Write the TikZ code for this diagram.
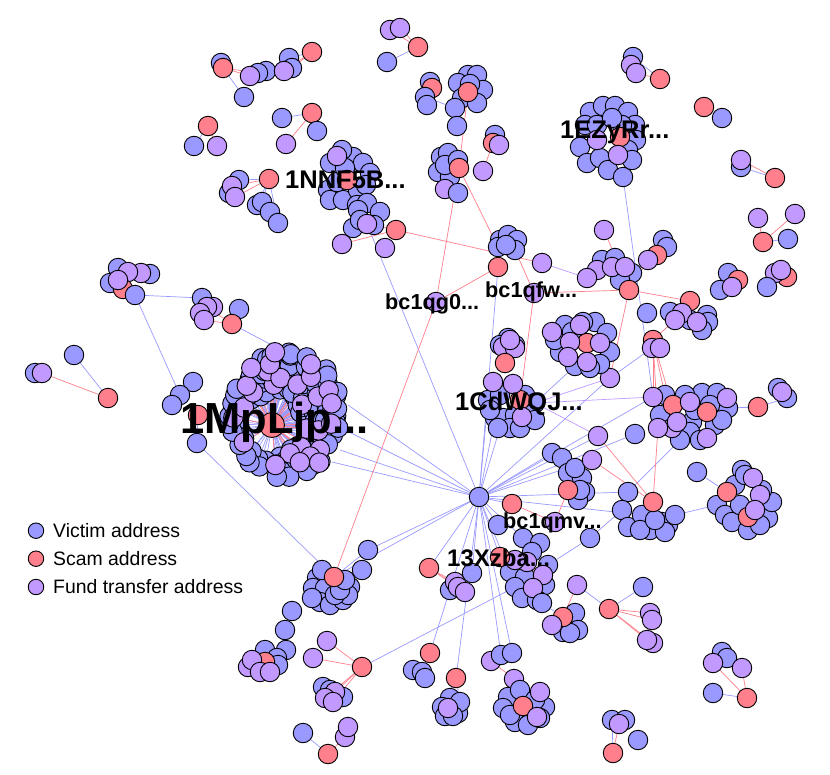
\documentclass[tikz,border=0pt]{standalone}
\usepackage{fontspec}
\setmainfont{Liberation Sans}
\definecolor{vic}{HTML}{9999FF}
\definecolor{scm}{HTML}{FF7F8C}
\definecolor{fnd}{HTML}{C299FF}
\pgfdeclarelayer{back}
\pgfdeclarelayer{bg}
\pgfsetlayers{back,bg,main}
\tikzset{
 nd/.style={circle,draw=black,line width=0.9pt,minimum size=19.5pt,inner sep=0pt},
 be/.style={draw=vic,line width=0.7pt},
 re/.style={draw=scm,line width=0.7pt},
 pe/.style={draw=fnd,line width=0.7pt},
 lab/.style={anchor=base west,inner sep=0pt},
 legc/.style={circle,draw=black,line width=0.9pt,minimum size=15.5pt,inner sep=0pt},
}
\newcommand\nodegroup[2]{\foreach \x/\y/\c [count=\i] in {#2} {\node[nd,fill=\c] (#1\i) at (\x,\y) {};}}
\newcommand\edgeset[2]{\begin{pgfonlayer}{bg}\foreach \ua/\ub in {#2} {\draw[#1] (\ua) -- (\ub);}\end{pgfonlayer}}
\begin{document}
\begin{tikzpicture}[x=1pt,y=-1pt]
\useasboundingbox (0,0) rectangle (830,774);
\begin{pgfonlayer}{back}\fill[white] (0,0) rectangle (830,774);\end{pgfonlayer}

% ---------- top-left small groups
\nodegroup{A}{221/63/vic,244/97/vic,223/68/scm,266/71/vic,258/73/vic,250/76/fnd,289/58/vic,292/68/vic,284/71/fnd,312/52/scm}
\nodegroup{B}{282/118/vic,312/113/scm,317/131/vic,286/144/fnd}
\nodegroup{C}{208/126/scm,194/146/vic,217/146/fnd}
\nodegroup{D}{239/180/vic,229/193/vic,232/186/fnd,235/197/fnd,269/179/scm,257/205/vic,262/202/vic,270/212/vic,278/223/vic}
% ---------- 1NNF5B cluster
\nodegroup{E}{330/163/vic,353/157/vic,363/163/vic,370/173/vic,328/190/vic,330/200/vic,343/200/vic,337/182/vic,358/190/vic,366/185/vic,345/168/vic,342/150/vic,357/205/vic,337/156/fnd,347/180/scm,367/203/vic,380/212/vic,358/210/vic,353/228/vic,360/220/vic,374/225/vic,367/224/fnd,396/230/scm,342/244/fnd,385/248/fnd}
% ---------- top middle
\nodegroup{TM}{390/30/fnd,400/28/fnd,387/62/vic,418/47/scm}
\nodegroup{H}{430/82/vic,432/88/scm,425/97/vic,427/105/vic,468/75/vic,477/75/vic,458/83/vic,483/90/vic,462/98/vic,477/103/vic,470/84/vic,455/108/vic,457/126/vic,468/92/scm}
\nodegroup{I}{495/135/vic,493/143/scm,499/145/fnd,483/171/fnd}
\nodegroup{G}{441/157/vic,448/153/vic,438/172/vic,450/177/vic,445/165/vic,458/160/vic,459/168/scm,445/189/fnd,458/193/vic}
\nodegroup{F}{500/240/vic,508/235/vic,517/240/vic,498/247/vic,515/250/vic,506/245/vic,498/267/scm,542/263/fnd,534/293/fnd}
\node[nd,fill=fnd] (QG) at (436,302) {};
% ---------- 1EZyRr cluster
\nodegroup{J}{590/112/vic,603/106/vic,615/106/vic,628/112/vic,635/125/vic,585/125/vic,636/140/vic,580/147/vic,628/150/vic,587/163/vic,600/158/vic,608/170/vic,623/177/vic,632/160/vic,597/125/vic,622/125/vic,612/118/vic,620/137/scm,597/140/fnd,618/155/fnd}
% ---------- top right
\nodegroup{TR}{633/57/vic,631/65/fnd,636/73/fnd,660/79/scm,704/107/scm,722/118/vic,741/167/vic,741/160/fnd,775/178/scm,758/218/fnd,795/214/fnd,763/242/scm,788/239/vic,728/273/vic,738/280/scm,720/290/vic,732/287/fnd,787/277/scm,775/273/fnd,781/270/fnd,767/287/vic}
\nodegroup{L}{602/260/vic,615/258/vic,632/273/vic,620/280/vic,597/270/fnd,587/278/fnd,612/267/fnd,625/267/fnd,629/290/scm,604/230/fnd,663/240/vic,667/247/vic,657/255/scm,648/260/fnd}
\nodegroup{M}{670/312/vic,707/315/vic,708/322/vic,702/330/vic,690/320/vic,690/301/scm,682/313/fnd,675/320/fnd,697/322/fnd}
\node[nd,fill=vic] (BL1) at (647,313) {};
\nodegroup{N}{653/340/scm,652/348/fnd,660/348/fnd}
\node[nd,fill=fnd] (PX) at (610,378) {};
\nodegroup{P}{565/325/vic,595/322/vic,607/333/vic,610/352/vic,600/364/vic,575/366/vic,560/352/vic,583/322/vic,590/368/vic,555/340/vic,572/332/vic,587/343/scm,552/332/fnd,580/325/fnd,570/342/fnd,600/343/fnd,587/362/fnd,568/357/fnd}
\nodegroup{Q}{508/338/vic,500/345/vic,515/345/vic,503/347/fnd,515/348/fnd,510/340/fnd,505/363/scm}
% ---------- 1CdWQJ cluster
\nodegroup{R}{488/400/vic,500/395/vic,525/395/vic,535/403/vic,530/415/vic,495/418/vic,503/418/vic,515/415/vic,510/428/vic,498/428/vic,520/428/vic,490/410/vic,535/420/vic,520/400/scm,493/382/fnd,513/384/fnd,522/417/fnd}
% ---------- right middle
\nodegroup{K}{702/393/vic,717/393/vic,692/422/vic,728/408/vic,665/395/vic,685/395/vic,695/410/vic,690/432/vic,715/425/vic,660/415/vic,700/440/vic,680/440/vic,722/420/vic,710/405/vic,673/405/scm,707/412/scm,653/397/fnd,672/428/fnd,677/422/fnd,658/428/fnd,727/398/fnd,707/438/fnd,690/402/fnd}
\nodegroup{KR}{758/407/scm,787/398/vic,778/388/vic,782/392/fnd}
\node[nd,fill=fnd] (PA) at (598,436) {};
\node[nd,fill=vic] (PB) at (635,434) {};
\nodegroup{S}{552/453/vic,562/458/vic,568/473/vic,582/478/vic,585/492/vic,578/500/vic,575/468/vic,580/490/vic,568/490/scm,592/460/fnd}
\nodegroup{T}{628/492/vic,622/510/vic,628/527/vic,642/515/vic,650/530/vic,662/522/vic,668/525/vic,665/532/vic,640/530/vic,675/515/vic,655/520/vic,653/502/scm}
\node[nd,fill=vic] (TB) at (697,472) {};
\nodegroup{U}{742/470/vic,735/485/vic,717/505/vic,725/515/vic,732/522/vic,748/530/vic,768/518/vic,772/502/vic,760/525/vic,745/475/vic,762/490/vic,740/505/vic,727/492/scm,748/517/scm,753/478/fnd,760/495/fnd,755/510/fnd}
\node[nd,fill=vic] (SB) at (590,538) {};
\node[nd,fill=vic] (HB) at (498,525) {};
\node[nd,fill=scm] (HR) at (512,504) {};
\node[nd,fill=fnd] (QM) at (555,522) {};
\node[nd,fill=vic] (hub) at (479,497) {};
% ---------- 13Xzba area
\nodegroup{V}{523/538/vic,540/543/vic,548/565/vic,510/572/vic,525/577/vic,545/585/vic,515/587/vic,522/598/vic,537/600/vic,532/552/vic,527/562/fnd,543/575/fnd,533/588/fnd,515/560/fnd}
\node[nd,fill=scm] (XR) at (500,557) {};
\node[nd,fill=vic] (VB) at (542,603) {};
\node[nd,fill=fnd] (WP) at (577,585) {};
\nodegroup{W}{575/613/vic,578/630/vic,563/632/vic,570/633/vic,563/617/scm,552/625/fnd}
\nodegroup{Y}{429/568/scm,472/573/vic,450/590/vic,455/582/fnd,458/587/fnd,465/592/fnd}
\nodegroup{Z}{609/609/scm,643/587/vic,653/643/fnd,650/613/fnd,652/620/fnd,647/640/fnd}
\nodegroup{ZB}{413/670/vic,422/672/vic,425/678/vic,430/653/scm}
\nodegroup{AB}{456/678/scm,450/698/vic,442/707/vic,458/713/vic,460/702/vic,445/716/vic,453/716/vic,448/708/fnd}
\nodegroup{AA}{491/661/fnd,501/655/vic,512/653/vic,514/679/fnd,508/697/vic,503/708/vic,515/722/vic,545/707/vic,528/725/vic,520/690/vic,535/700/vic,510/715/vic,540/718/vic,523/706/scm,540/692/fnd,537/717/fnd}
\nodegroup{BB}{722/652/vic,727/658/vic,713/663/fnd,742/668/fnd,713/693/vic,747/698/scm}
\nodegroup{CC}{612/720/vic,625/720/vic,619/724/fnd,638/740/vic,613/753/scm}
% ---------- bottom left
\nodegroup{DD}{317/578/vic,313/588/vic,325/588/vic,350/587/vic,320/602/vic,330/605/vic,343/600/vic,348/595/vic,312/598/vic,335/595/vic,322/570/vic,340/590/vic,345/580/vic,334/577/scm}
\nodegroup{DB}{368/550/vic,362/570/vic}
\nodegroup{EE}{292/611/vic,285/630/vic,286/650/vic,265/650/vic,277/658/vic,278/665/vic,265/662/scm,248/667/fnd,252/660/fnd,260/672/fnd,270/672/fnd}
\nodegroup{FF}{327/641/fnd,313/658/fnd,362/667/scm,323/687/vic,343/697/vic,330/690/vic,335/692/fnd,325/698/fnd,333/702/fnd}
\nodegroup{HH}{303/733/vic,328/754/scm,345/737/fnd,348/727/fnd}
% ---------- left
\nodegroup{LA}{118/268/vic,110/283/vic,150/274/vic,141/273/fnd,128/272/fnd,123/289/scm,118/280/fnd,135/295/vic}
\nodegroup{LB}{202/298/vic,213/307/fnd,207/307/fnd,200/313/fnd,204/320/fnd,239/309/vic,232/324/scm}
\nodegroup{LC}{74/355/vic,35/373/vic,42/373/fnd,108/398/scm}
\nodegroup{ML}{193/382/vic,180/395/vic,172/405/vic,198/415/scm,197/443/vic}

% ---------- 1MpLjp cluster: blue layer, then purple layer on top
\node[nd,fill=scm,minimum size=25pt] (MPC) at (272,425) {};
\foreach \r/\n/\o in {34/19/0,41/23/9,48/27/4,55/31/11,62/35/2,69/39/7,76/43/5,83/47/1}{
 \foreach \k in {1,...,\n}{
  \pgfmathsetmacro\ang{360/\n*\k+\o+5*sin(\k*97+\r*31)}
  \pgfmathsetmacro\rr{\r+3*cos(\k*73+\r*41)}
  \pgfmathsetmacro\px{272+\rr*cos(\ang)}
  \pgfmathsetmacro\py{425+\rr*sin(\ang)}
  \pgfmathsetmacro\dd{veclen((\px-285)/58,(\py-414)/64)}
  \ifdim\dd pt<1pt
    \node[nd,fill=vic] (mpb-\r-\k) at (\px,\py) {};
    \begin{pgfonlayer}{bg}\draw[be] (MPC) -- (mpb-\r-\k);\end{pgfonlayer}
  \fi
 }}
\foreach \r/\n/\o in {37/14/13,50/19/3,63/24/17,76/29/8}{
 \foreach \k in {1,...,\n}{
  \pgfmathsetmacro\ang{360/\n*\k+\o+7*sin(\k*61+\r*23)}
  \pgfmathsetmacro\rr{\r+4*cos(\k*113+\r*19)}
  \pgfmathsetmacro\px{272+\rr*cos(\ang)}
  \pgfmathsetmacro\py{425+\rr*sin(\ang)}
  \pgfmathsetmacro\dd{veclen((\px-285)/57,(\py-414)/63)}
  \pgfmathtruncatemacro\cc{mod(\k*\k*3+\r*7+\k*5,7)}
  \ifdim\dd pt<1pt
   \ifnum\cc<4
    \node[nd,fill=fnd] (mpf-\r-\k) at (\px,\py) {};
    \begin{pgfonlayer}{bg}\draw[re] (MPC) -- (mpf-\r-\k);\end{pgfonlayer}
   \fi
  \fi
 }}
\coordinate (mpa) at (348,405);
\coordinate (mpb) at (345,430);
\coordinate (mpc2) at (340,450);
\coordinate (mpd) at (332,462);
\coordinate (mptop) at (285,352);

% ---------- connectors
\edgeset{be}{A2/A3,A7/A10,B1/B2,C2/C1,D5/D1,D5/D6,D5/D7,D5/D9,hub/E22,hub/F7,hub/R1,hub/R6,hub/R7,hub/PX,hub/PB,hub/K17,hub/S10,hub/S1,hub/T1,hub/HB,hub/XR,hub/V1,hub/V4,hub/Y1,hub/Y2,hub/ZB4,hub/AB1,hub/AA3,hub/AA2,hub/DB1,hub/DD14,hub/mpa,hub/mpb,hub/mpc2,hub/mpd,hub/HR,hub/PA,hub/T4,J13/K17,TM3/TM4,TR1/TR4,TR5/TR6,TR9/TR7,TR12/TR13,TR15/TR16,TR18/TR21,KR1/K4,KR1/KR2,TB/U13,T10/U3,K12/T1,SB/T2,SB/V3,W5/VB,WP/Z1,Z1/Z2,AB1/AB5,AB1/AB3,BB6/BB5,CC5/CC1,DB1/DD14,DB2/DD14,ML5/DD14,LA8/LB1,LA8/ML2,LB7/mptop,LC1/LC4,EE1/EE5,EE2/EE6,EE3/EE4,FF3/V7,HH1/HH2,PX/N2,P6/R4,H3/H12,ML4/ML5}
\edgeset{re}{A3/A6,A3/A5,A10/A9,A10/A8,B2/B4,C1/C3,D5/D3,D5/D4,E23/E24,E23/E22,E23/F8,F7/QG,F5/F9,F9/R14,F9/L9,G7/F4,G7/QG,H14/G7,I2/I4,TM4/TM2,TM4/TM1,TR4/TR3,TR9/TR8,TR12/TR10,TR12/TR11,L10/L9,L9/L14,L9/M6,L9/PX,M8/N1,N1/K17,N1/K18,N1/K19,N1/K20,PA/T12,S10/T12,K20/T12,HR/QM,QM/S9,XR/V11,XR/V12,XR/V13,XR/V14,XR/V6,Y1/Y4,Y1/Y5,Y1/Y6,WP/W5,Z1/Z3,Z1/Z4,Z1/Z5,Z1/Z6,AA1/AA4,BB6/BB3,BB6/BB4,CC5/CC3,QG/DD14,FF3/FF1,FF3/FF2,FF3/FF7,FF3/FF8,FF3/FF9,HH2/HH3,LB7/LB3,LB7/LB5,LC4/LC3,EE7/EE9}
\edgeset{pe}{F8/L6,R4/PA,R4/K17,R4/PX}

% ---------- labels
\node[lab,font=\fontsize{43.5}{44}\selectfont\bfseries] (lMp) at (180,433) {1MpLjp...};
\node[lab,font=\fontsize{25.5}{26}\selectfont\bfseries] (lNN) at (285,188) {1NNF5B...};
\node[lab,font=\fontsize{25.5}{26}\selectfont\bfseries] (lEZ) at (560,138) {1EZyRr...};
\node[lab,font=\fontsize{25.5}{26}\selectfont\bfseries] (lCd) at (455,410) {1CdWQJ...};
\node[lab,font=\fontsize{24}{25}\selectfont\bfseries] (lXz) at (447,566) {13Xzba...};
\node[lab,font=\fontsize{21.7}{22}\selectfont\bfseries] (lqg) at (385,309) {bc1qg0...};
\node[lab,font=\fontsize{21.7}{22}\selectfont\bfseries] (lqf) at (485,297) {bc1qfw...};
\node[lab,font=\fontsize{21.7}{22}\selectfont\bfseries] (lqm) at (503,528) {bc1qmv...};

% ---------- legend
\node[legc,fill=vic] (lg1) at (36,530.7) {};
\node[legc,fill=scm] (lg2) at (36,558.7) {};
\node[legc,fill=fnd] (lg3) at (36,587) {};
\node[lab,font=\fontsize{19.4}{20}\selectfont] (lt1) at (53,537.6) {Victim address};
\node[lab,font=\fontsize{19.4}{20}\selectfont] (lt2) at (53,565.6) {Scam address};
\node[lab,font=\fontsize{19.4}{20}\selectfont] (lt3) at (53,593.9) {Fund transfer address};
\end{tikzpicture}
\end{document}
